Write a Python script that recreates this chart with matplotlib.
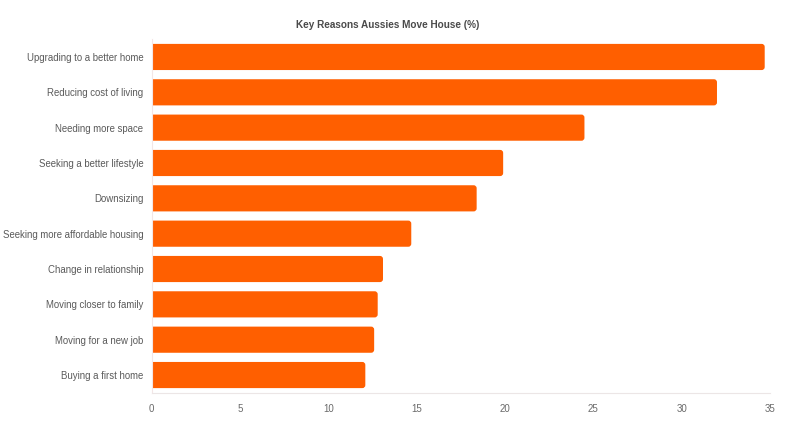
import matplotlib
matplotlib.use("Agg")
import matplotlib.pyplot as plt
from matplotlib.patches import FancyBboxPatch

categories = [
    "Upgrading to a better home",
    "Reducing cost of living",
    "Needing more space",
    "Seeking a better lifestyle",
    "Downsizing",
    "Seeking more affordable housing",
    "Change in relationship",
    "Moving closer to family",
    "Moving for a new job",
    "Buying a first home",
]
values = [34.7, 32.0, 24.5, 19.9, 18.4, 14.7, 13.1, 12.8, 12.6, 12.1]
xticks = [0, 5, 10, 15, 20, 25, 30, 35]
title = "Key Reasons Aussies Move House (%)"

plt.rcParams['font.family'] = ['Liberation Sans', 'DejaVu Sans']
BAR = "#FF5F00"

fig = plt.figure(figsize=(8, 4.22), dpi=100)
W, H = 800, 422
ax = fig.add_axes([151.5 / W, 1 - 392.7 / H, (770 - 151.5) / W, (392.7 - 39.3) / H])

ypos = list(range(len(categories)))
bars = ax.barh(ypos, values, height=0.74, color=BAR)
ax.set_xlim(0, 35)
ax.set_ylim(len(categories) - 0.5, -0.5)

# rounded ends
r = 0.17
for b in bars:
    x0, y0 = b.get_x(), b.get_y()
    w, h = b.get_width(), b.get_height()
    b.set_visible(False)
    p = FancyBboxPatch((x0 - 0.5, y0), w + 0.5, h,
                       boxstyle=f"round,pad=0,rounding_size={r}",
                       mutation_aspect=0.5, facecolor=BAR, edgecolor="none")
    ax.add_patch(p)

ax.set_yticks(ypos)
ax.set_yticklabels(categories, fontsize=6.9, color="#5a5a5a")
ax.set_xticks(xticks)
ax.set_xticklabels([str(t) for t in xticks], fontsize=7, color="#6a6a6a")
ax.tick_params(axis="y", length=0, pad=6)
ax.tick_params(axis="x", length=0, pad=8)

for s in ["top", "right"]:
    ax.spines[s].set_visible(False)
ax.spines["left"].set_color("#f3e6e6")
ax.spines["left"].set_linewidth(0.8)
ax.spines["bottom"].set_color("#ece6e6")
ax.spines["bottom"].set_linewidth(0.8)

fig.text(388 / W, 1 - 25 / H, title, ha="center", va="center",
         fontsize=7.2, fontweight="bold", color="#4a4a4a")

fig.savefig("out.png", dpi=100, facecolor="white")
